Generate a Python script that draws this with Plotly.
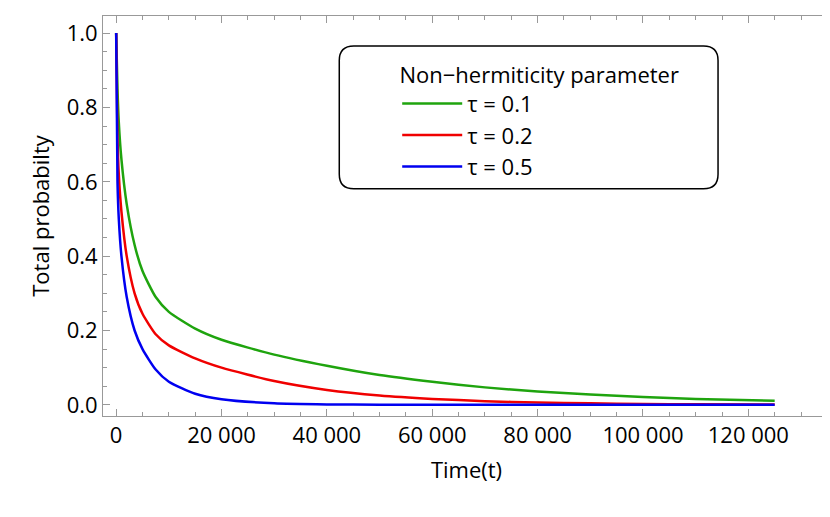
import plotly.graph_objects as go

# times (t) and probabilities
t_vals = [0, 250, 500, 1000, 2000, 3500, 5000, 7500, 10000, 15000, 20000, 30000,
          40000, 50000, 60000, 70000, 80000, 90000, 100000, 110000, 125000]
p_tau01 = [1.0, 0.85, 0.76, 0.66, 0.54, 0.43, 0.36, 0.29, 0.25, 0.205, 0.175, 0.135,
           0.105, 0.08, 0.062, 0.047, 0.036, 0.028, 0.021, 0.016, 0.011]
p_tau02 = [1.0, 0.72, 0.62, 0.52, 0.40, 0.30, 0.245, 0.19, 0.16, 0.125, 0.10, 0.064,
           0.04, 0.025, 0.016, 0.01, 0.006, 0.004, 0.0025, 0.0015, 0.001]
p_tau05 = [1.0, 0.6, 0.5, 0.40, 0.29, 0.20, 0.15, 0.095, 0.062, 0.03, 0.015, 0.004,
           0.0012, 0.0004, 0.0001, 0, 0, 0, 0, 0, 0]
series = [("τ = 0.1", p_tau01, "#1fa40e"), ("τ = 0.2", p_tau02, "#f00000"),
          ("τ = 0.5", p_tau05, "#0000f0")]

x_ticks = [0, 20000, 40000, 60000, 80000, 100000, 120000]
x_labels = ["0", "20 000", "40 000", "60 000", "80 000", "100 000", "120 000"]
y_ticks = [0.0, 0.2, 0.4, 0.6, 0.8, 1.0]

fig = go.Figure()
for name, vals, color in series:
    fig.add_trace(go.Scatter(x=t_vals, y=vals, name=name, mode="lines",
                             line=dict(color=color, width=2.5, shape="spline", smoothing=0.6)))

axis_style = dict(showline=True, linecolor="#999999", linewidth=1, mirror="ticks",
                  ticks="inside", ticklen=7, tickcolor="#999999", showgrid=False,
                  zeroline=False, automargin=False, tickfont=dict(size=22, color="black"),
                  minor=dict(ticks="inside", ticklen=4, tickcolor="#999999", showgrid=False))

fig.update_xaxes(range=[-2500, 135500], tickvals=x_ticks, ticktext=x_labels,
                 title=dict(text="Time(t)", font=dict(size=22), standoff=14),
                 minor_dtick=5000, **axis_style)
fig.update_yaxes(range=[-0.03, 1.046], tickvals=y_ticks, tickformat=".1f",
                 title=dict(text="Total probabilty", font=dict(size=22), standoff=10),
                 minor_dtick=0.05, **axis_style)

# rounded legend frame
x0, x1, y0, y1, r = 0.325, 0.846, 0.568, 0.925, 0.02
ry = r * 727 / 400
fig.add_shape(type="path", xref="paper", yref="paper", line=dict(color="black", width=1.5),
              fillcolor="white", layer="above",
              path=(f"M {x0+r},{y0} L {x1-r},{y0} Q {x1},{y0} {x1},{y0+ry} "
                    f"L {x1},{y1-ry} Q {x1},{y1} {x1-r},{y1} L {x0+r},{y1} "
                    f"Q {x0},{y1} {x0},{y1-ry} L {x0},{y0+ry} Q {x0},{y0} {x0+r},{y0} Z"))

fig.update_layout(
    width=830, height=517, plot_bgcolor="white", paper_bgcolor="white",
    margin=dict(l=95, r=8, t=8, b=109),
    font=dict(family="Open Sans, Liberation Sans, sans-serif", color="black"),
    legend=dict(x=0.6, y=0.905, xanchor="center", yanchor="top", bgcolor="rgba(0,0,0,0)",
                title=dict(text="Non−hermiticity parameter", side="top center", font=dict(size=22)),
                font=dict(size=22), tracegroupgap=14, itemwidth=60),
)

fig.write_html("out.html")
